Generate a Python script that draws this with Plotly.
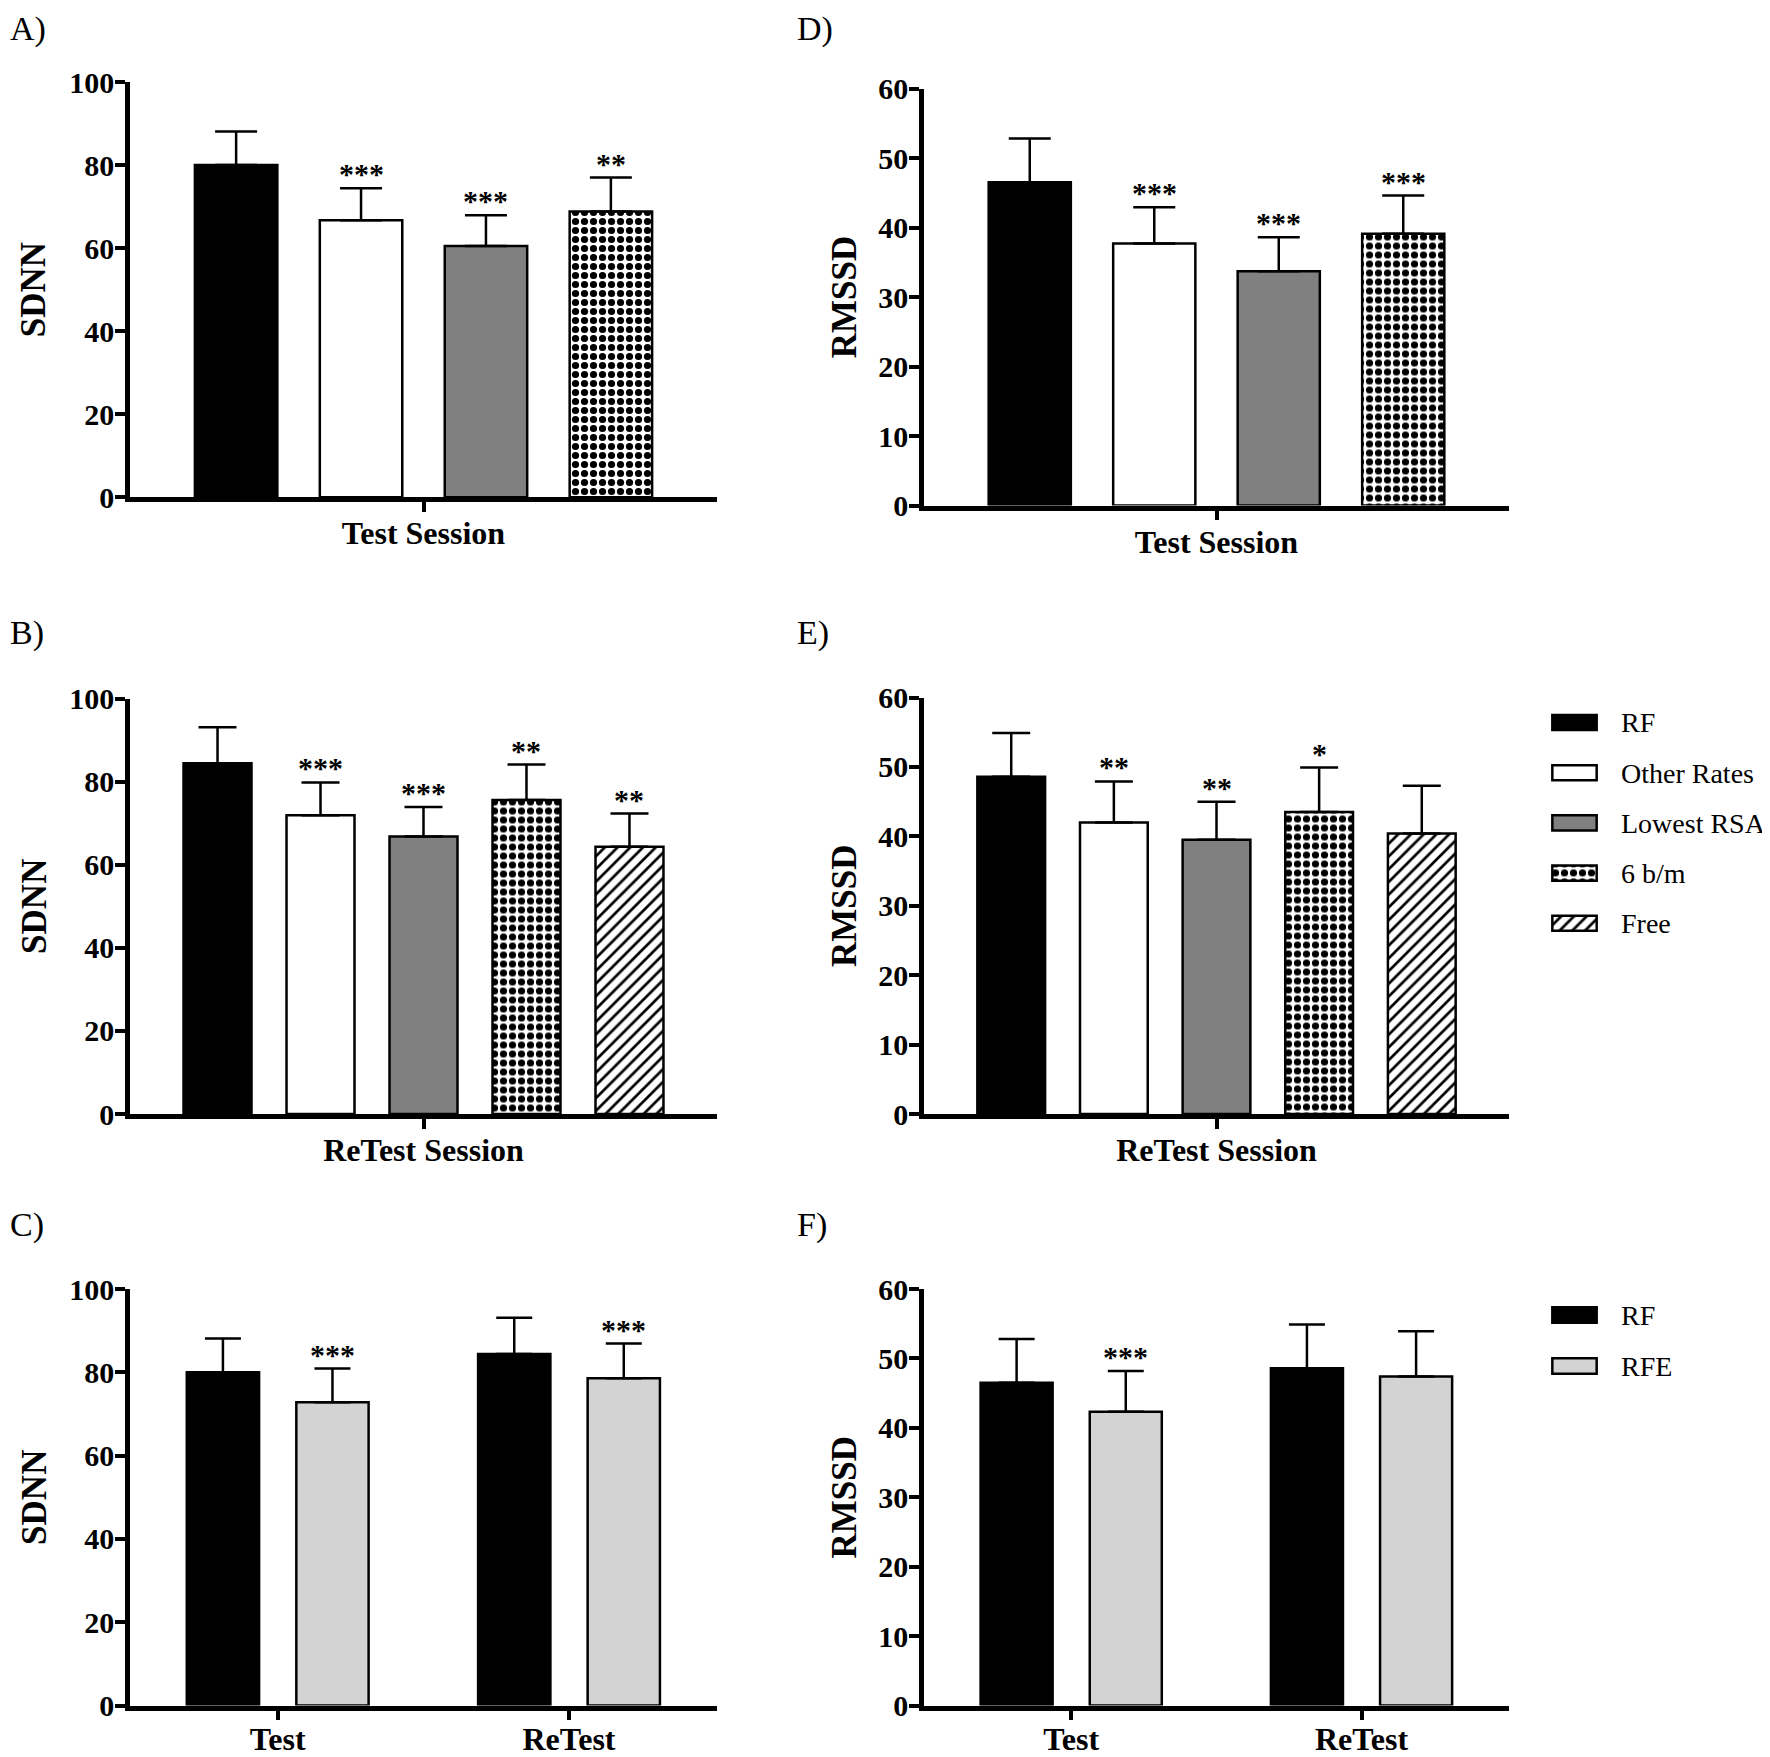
import plotly.graph_objects as go

# page body margin (8px) is compensated so screen positions match reference pixels
OFF = 8
W, H = 1770 - OFF, 1757 - OFF
SERIF = "Liberation Serif"

# ---------------- data ----------------
series_test = ["RF", "Other Rates", "Lowest RSA", "6 b/m"]
series_retest = ["RF", "Other Rates", "Lowest RSA", "6 b/m", "Free"]
series_cmp = ["RF", "RFE"]
session_test = ["Test Session"]
session_retest = ["ReTest Session"]
cmp_categories = ["Test", "ReTest"]

sdnn_test_mean = [80.0, 66.7, 60.5, 68.8]
sdnn_test_err = [8.1, 7.7, 7.4, 8.2]
sdnn_test_sig = ["", "***", "***", "**"]

rmssd_test_mean = [46.5, 37.7, 33.7, 39.1]
rmssd_test_err = [6.3, 5.2, 4.9, 5.5]
rmssd_test_sig = ["", "***", "***", "***"]

sdnn_retest_mean = [84.4, 71.9, 66.8, 75.6, 64.3]
sdnn_retest_err = [8.7, 7.9, 7.1, 8.5, 8.0]
sdnn_retest_sig = ["", "***", "***", "**", "**"]

rmssd_retest_mean = [48.6, 42.0, 39.5, 43.5, 40.4]
rmssd_retest_err = [6.3, 5.9, 5.5, 6.4, 6.9]
rmssd_retest_sig = ["", "**", "**", "*", ""]

sdnn_rf_mean = [80.0, 84.4]
sdnn_rf_err = [8.1, 8.7]
sdnn_rf_sig = ["", ""]
sdnn_rfe_mean = [72.8, 78.6]
sdnn_rfe_err = [8.1, 8.3]
sdnn_rfe_sig = ["***", "***"]

rmssd_rf_mean = [46.5, 48.6]
rmssd_rf_err = [6.3, 6.3]
rmssd_rf_sig = ["", ""]
rmssd_rfe_mean = [42.3, 47.4]
rmssd_rfe_err = [5.9, 6.5]
rmssd_rfe_sig = ["***", ""]

# ---------------- styles ----------------
STYLE = {
    "RF": dict(color="black"),
    "Other Rates": dict(color="white"),
    "Lowest RSA": dict(color="#808080"),
    "6 b/m": dict(color="white", pattern=dict(shape=".", fgcolor="black", bgcolor="white", size=9, solidity=0.5)),
    "Free": dict(color="white", pattern=dict(shape="/", fgcolor="black", bgcolor="white", size=9, solidity=0.3)),
    "RFE": dict(color="#d3d3d3"),
}
BARGAP, GROUPGAP = 0.248, 0.34

fig = go.Figure()


def xd(a, b):
    return [(a - OFF) / W, (b - OFF) / W]


def yd(top, bottom):
    return [1 - (bottom - OFF) / H, 1 - (top - OFF) / H]


def axname(i):
    return "" if i == 1 else str(i)


def add_panel(idx, cats, series, means, errs, sigs, cap, xdom, ydom, xrange, ymax, dtick, ytitle,
              standoff, xstand):
    a = axname(idx)
    n = len(series)
    xs = list(range(len(cats)))
    for i, s in enumerate(series):
        fig.add_trace(go.Bar(
            x=xs, y=means[i], xaxis="x" + a, yaxis="y" + a, name=s, showlegend=False,
            marker=dict(**STYLE[s], line=dict(color="black", width=2.5)),
            error_y=dict(type="data", array=errs[i], arrayminus=[0] * len(xs), symmetric=False,
                         color="black", thickness=2.5, width=cap),
        ))
        off = -(1 - BARGAP) / 2 + (i + 0.5) * (1 - BARGAP) / n
        for j, x in enumerate(xs):
            if sigs[i][j]:
                fig.add_annotation(
                    x=x + off, y=means[i][j] + errs[i][j], xref="x" + a, yref="y" + a,
                    text=sigs[i][j], showarrow=False, yanchor="bottom", yshift=-4,
                    font=dict(family=SERIF, size=30, color="black", weight="bold"))
    fig.update_layout(**{
        "xaxis" + a: dict(
            domain=xdom, anchor="y" + a, range=xrange, tickmode="array", tickvals=xs, ticktext=cats,
            showline=True, linecolor="black", linewidth=4.5, ticks="outside", ticklen=10,
            tickwidth=3.5, tickcolor="black", showgrid=False, zeroline=False, ticklabelstandoff=xstand,
            automargin=False,
            tickfont=dict(family=SERIF, size=32, color="black", weight="bold"), fixedrange=True),
        "yaxis" + a: dict(
            domain=ydom, anchor="x" + a, range=[0, ymax], tick0=0, dtick=dtick,
            showline=True, linecolor="black", linewidth=4.5, ticks="outside", ticklen=10,
            tickwidth=3.5, tickcolor="black", showgrid=False, zeroline=False, ticklabelstandoff=-5,
            automargin=False,
            tickfont=dict(family=SERIF, size=30, color="black", weight="bold"),
            title=dict(text=ytitle, standoff=standoff,
                       font=dict(family=SERIF, size=35, color="black", weight="bold"))),
    })


def per_series(lst):
    return [[v] for v in lst]


LX = xd(130, 717)
RX = xd(924, 1509)

# A
add_panel(1, session_test, series_test, per_series(sdnn_test_mean), per_series(sdnn_test_err),
          per_series(sdnn_test_sig), 21, LX, yd(82, 497.3), [-0.4417, 0.4417], 100, 20, "SDNN", 14, -6)
# D
add_panel(2, session_test, series_test, per_series(rmssd_test_mean), per_series(rmssd_test_err),
          per_series(rmssd_test_sig), 21, RX, yd(88.5, 505.5), [-0.4417, 0.4417], 60, 10, "RMSSD", 13, -6)
# B
add_panel(3, session_retest, series_retest, per_series(sdnn_retest_mean), per_series(sdnn_retest_err),
          per_series(sdnn_retest_sig), 19, LX, yd(698.5, 1114), [-0.4286, 0.4286], 100, 20, "SDNN", 14, -6)
# E
add_panel(4, session_retest, series_retest, per_series(rmssd_retest_mean), per_series(rmssd_retest_err),
          per_series(rmssd_retest_sig), 19, RX, yd(697.5, 1114), [-0.4286, 0.4286], 60, 10, "RMSSD", 13, -6)
# C
add_panel(5, cmp_categories, series_cmp, [sdnn_rf_mean, sdnn_rfe_mean], [sdnn_rf_err, sdnn_rfe_err],
          [sdnn_rf_sig, sdnn_rfe_sig], 18, LX, yd(1289, 1705.5), [-0.507, 1.508], 100, 20, "SDNN", 14, -9)
# F
add_panel(6, cmp_categories, series_cmp, [rmssd_rf_mean, rmssd_rfe_mean], [rmssd_rf_err, rmssd_rfe_err],
          [rmssd_rf_sig, rmssd_rfe_sig], 18, RX, yd(1289, 1705.5), [-0.507, 1.508], 60, 10, "RMSSD", 13, -9)


# ---------------- legends (swatch bars on hidden axes) ----------------
def add_legend(idx, names, top_px, step, xpx):
    a = axname(idx)
    k = len(names)
    pos = list(range(k))
    for p, nm in zip(pos, names):
        fig.add_trace(go.Bar(
            y=[p], x=[1], orientation="h", xaxis="x" + a, yaxis="y" + a, width=0.3,
            offsetgroup="legend" + a, showlegend=False, hoverinfo="skip", name=nm,
            marker=dict(**STYLE[nm], line=dict(color="black", width=2.5)),
        ))
    fig.update_layout(**{
        "xaxis" + a: dict(domain=xd(xpx[0], xpx[1]), anchor="y" + a, range=[-0.03, 1.03], visible=False,
                          automargin=False),
        "yaxis" + a: dict(domain=yd(top_px - step / 2, top_px + step * (k - 0.5)), anchor="x" + a,
                          range=[k - 0.5, -0.5], side="right", tickmode="array", tickvals=pos, ticktext=names,
                          showline=False, showgrid=False, zeroline=False, ticks="", ticklabelstandoff=22,
                          automargin=False,
                          tickfont=dict(family=SERIF, size=28, color="black")),
    })


add_legend(7, series_retest, 722.5, 50.2, (1551, 1598))
add_legend(8, series_cmp, 1315, 51, (1551, 1598))

# ---------------- panel letters ----------------
for lab, xp, yp in [("A)", 8, 8), ("B)", 8, 612), ("C)", 8, 1204),
                    ("D)", 795, 8), ("E)", 795, 612), ("F)", 795, 1204)]:
    fig.add_annotation(x=(xp - OFF) / W, y=1 - (yp - OFF) / H, xref="paper", yref="paper", text=lab,
                       showarrow=False, xanchor="left", yanchor="top",
                       font=dict(family=SERIF, size=34, color="black"))

fig.update_layout(
    template="none",
    width=W, height=H, margin=dict(l=0, r=0, t=0, b=0, autoexpand=False),
    paper_bgcolor="white", plot_bgcolor="white",
    barmode="group", bargap=BARGAP, bargroupgap=GROUPGAP,
    showlegend=False,
)

fig.write_html("out.html")
